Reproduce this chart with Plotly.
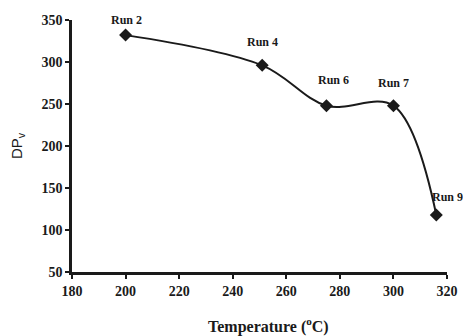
import plotly.graph_objects as go

temperature = [200, 251, 275, 300, 316]
dpv = [332, 296, 248, 248, 118]
run_labels = ["Run 2", "Run 4", "Run 6", "Run 7", "Run 9"]

x_ticks = [180, 200, 220, 240, 260, 280, 300, 320]
y_ticks = [50, 100, 150, 200, 250, 300, 350]

x_title = "Temperature (<sup>o</sup>C)"
y_title = "DP<sub>v</sub>"

# label offsets in screen pixels (style)
label_dx = [1, 0, 7, 0, 11]
label_dy = [15, 23, 26, 23, 18]

serif = "Liberation Serif, Times New Roman, serif"
ink = "#1a1a1a"

fig = go.Figure()
fig.add_trace(go.Scatter(
    x=temperature, y=dpv,
    mode="lines+markers",
    line=dict(color=ink, width=2, shape="spline", smoothing=1.0),
    marker=dict(symbol="diamond", size=10, color=ink),
    cliponaxis=False, showlegend=False,
))

for xv, yv, lab, dx, dy in zip(temperature, dpv, run_labels, label_dx, label_dy):
    fig.add_annotation(
        x=xv, y=yv, text=lab, showarrow=False,
        xanchor="center", yanchor="middle", xshift=dx, yshift=dy,
        font=dict(family=serif, size=12, color=ink, weight="bold"),
    )

# x-axis title, slightly right of the axis centre as in the reference
fig.add_annotation(
    xref="paper", yref="paper", x=0.5, y=0, text=x_title, showarrow=False,
    xanchor="center", yanchor="middle", xshift=9, yshift=-53,
    font=dict(family=serif, size=16, color=ink, weight="bold"),
)

fig.update_layout(
    width=463, height=336,
    margin=dict(l=72, r=16, t=20, b=64, autoexpand=False),
    paper_bgcolor="white", plot_bgcolor="white",
    font=dict(family=serif, color=ink),
)
fig.update_xaxes(
    range=[180, 320], tickvals=x_ticks, automargin=False,
    showgrid=False, zeroline=False,
    showline=True, linecolor=ink, linewidth=2.5,
    ticks="outside", ticklen=4, tickwidth=2, tickcolor=ink,
    tickfont=dict(family=serif, size=14, weight="bold"),
)
fig.update_yaxes(
    range=[50, 350], tickvals=y_ticks, automargin=False,
    showgrid=False, zeroline=False,
    showline=True, linecolor=ink, linewidth=2.5,
    ticks="outside", ticklen=4, tickwidth=2, tickcolor=ink,
    tickfont=dict(family=serif, size=14, weight="bold"),
    title=dict(text=y_title, font=dict(family="Liberation Sans, Arial, sans-serif", size=15), standoff=16),
)

# remove the page's default body margin so the figure fills the window exactly
fig.write_html(
    "out.html",
    config={"displayModeBar": False},
    post_script="document.body.style.margin='0';document.body.style.overflow='hidden';",
)
